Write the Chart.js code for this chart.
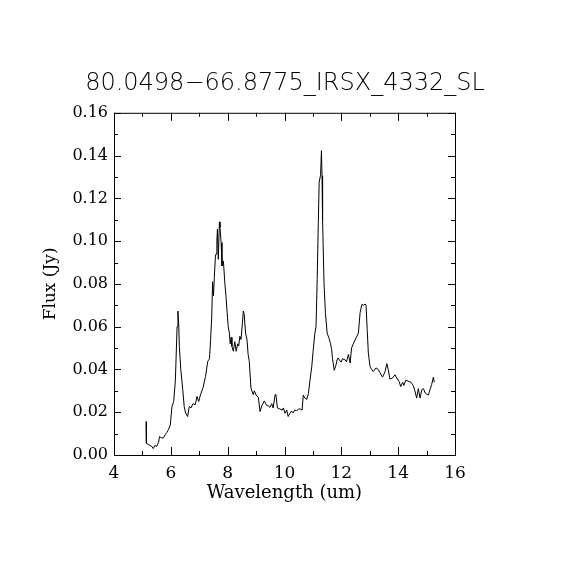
<!DOCTYPE html>
<html lang="en">
<head>
    <meta charset="UTF-8">
    <title>80.0498-66.8775_IRSX_4332_SL</title>
    <script src="https://cdn.jsdelivr.net/npm/chart.js"></script>
    <style>
        html, body { margin: 0; padding: 0; background: #fff; }
        .chart-container { width: 570px; height: 570px; }
    </style>
</head>
<body>

<div class="chart-container">
    <canvas id="spectrumChart" width="570" height="570"></canvas>
</div>

<script>
    // Espectro: longitud de onda (um) y flujo (Jy)
    const wavelength = [
        5.13, 5.14, 5.20, 5.27, 5.33, 5.38, 5.44, 5.50, 5.57, 5.60, 5.67, 5.74, 5.80, 5.86, 5.92, 5.98,
        6.04, 6.10, 6.16, 6.22, 6.25, 6.28, 6.30, 6.35, 6.42, 6.47, 6.52, 6.59, 6.65, 6.71, 6.78, 6.86,
        6.92, 6.98, 7.04, 7.13, 7.22, 7.30, 7.36, 7.40, 7.44, 7.47, 7.50, 7.53, 7.57, 7.59, 7.62, 7.64,
        7.67, 7.71, 7.73, 7.77, 7.80, 7.85, 7.90, 7.94, 7.99, 8.02, 8.06, 8.09, 8.12, 8.15, 8.20, 8.25,
        8.30, 8.35, 8.39, 8.43, 8.47, 8.52, 8.55, 8.58, 8.63, 8.68, 8.72, 8.76, 8.82, 8.90, 8.94, 9.00,
        9.08, 9.14, 9.20, 9.29, 9.37, 9.43, 9.49, 9.55, 9.60, 9.67, 9.70, 9.75, 9.84, 9.92, 9.96, 10.02,
        10.08, 10.13, 10.19, 10.25, 10.30, 10.36, 10.43, 10.50, 10.55, 10.62, 10.66, 10.72, 10.78, 10.84,
        10.90, 10.96, 11.01, 11.07, 11.11, 11.15, 11.19, 11.22, 11.27, 11.30, 11.32, 11.34, 11.39, 11.44,
        11.50, 11.57, 11.62, 11.66, 11.69, 11.75, 11.81, 11.85, 11.89, 11.95, 12.00, 12.04, 12.13, 12.18,
        12.25, 12.31, 12.36, 12.42, 12.52, 12.60, 12.66, 12.72, 12.78, 12.84, 12.87, 12.91, 12.95, 13.01,
        13.07, 13.12, 13.22, 13.30, 13.36, 13.45, 13.54, 13.60, 13.65, 13.71, 13.80, 13.89, 13.95, 14.03,
        14.09, 14.16, 14.20, 14.27, 14.35, 14.45, 14.53, 14.59, 14.65, 14.71, 14.77, 14.83, 14.89, 14.95,
        15.00, 15.06, 15.12, 15.18, 15.24, 15.27
    ];
    const flux = [
        0.0156, 0.0055, 0.0050, 0.0045, 0.0040, 0.0030, 0.0045, 0.0040, 0.0060, 0.0086, 0.0080, 0.0080, 0.0095, 0.0105, 0.0120, 0.0140,
        0.0227, 0.0250, 0.0350, 0.0600, 0.0673, 0.0600, 0.0508, 0.0400, 0.0305, 0.0227, 0.0196, 0.0180, 0.0227, 0.0220, 0.0240, 0.0235,
        0.0274, 0.0250, 0.0280, 0.0313, 0.0367, 0.0438, 0.0450, 0.0540, 0.0650, 0.0810, 0.0745, 0.0830, 0.0930, 0.0940, 0.1000, 0.1056,
        0.0915, 0.1090, 0.1064, 0.0993, 0.0884, 0.0907, 0.0805, 0.0743, 0.0650, 0.0600, 0.0570, 0.0520, 0.0550, 0.0508, 0.0485, 0.0530,
        0.0485, 0.0520, 0.0510, 0.0555, 0.0540, 0.0618, 0.0673, 0.0660, 0.0570, 0.0540, 0.0470, 0.0438, 0.0313, 0.0282, 0.0300, 0.0280,
        0.0269, 0.0203, 0.0230, 0.0253, 0.0232, 0.0230, 0.0223, 0.0240, 0.0220, 0.0282, 0.0280, 0.0220, 0.0215, 0.0210, 0.0220, 0.0195,
        0.0210, 0.0180, 0.0195, 0.0205, 0.0197, 0.0210, 0.0208, 0.0215, 0.0215, 0.0210, 0.0280, 0.0266, 0.0260, 0.0286,
        0.0352, 0.0414, 0.0490, 0.0570, 0.0600, 0.0820, 0.1087, 0.1275, 0.1310, 0.1423, 0.1306, 0.1100, 0.0806, 0.0665,
        0.0570, 0.0545, 0.0520, 0.0493, 0.0450, 0.0396, 0.0420, 0.0445, 0.0454, 0.0440, 0.0435, 0.0450, 0.0445, 0.0436,
        0.0470, 0.0430, 0.0500, 0.0520, 0.0548, 0.0570, 0.0665, 0.0704, 0.0700, 0.0706, 0.0699, 0.0587, 0.0477, 0.0414,
        0.0400, 0.0390, 0.0407, 0.0400, 0.0385, 0.0364, 0.0390, 0.0427, 0.0400, 0.0355, 0.0360, 0.0375, 0.0360, 0.0344,
        0.0320, 0.0340, 0.0325, 0.0350, 0.0345, 0.0340, 0.0325, 0.0300, 0.0266, 0.0310, 0.0266, 0.0305, 0.0310, 0.0290,
        0.0285, 0.0280, 0.0305, 0.0330, 0.0364, 0.0340
    ];
    const xTicks = [4, 6, 8, 10, 12, 14, 16];
    const yTicks = [0.00, 0.02, 0.04, 0.06, 0.08, 0.10, 0.12, 0.14, 0.16];

    const serif = "'DejaVu Serif', serif";

    // Marcas hacia dentro en los cuatro lados (mayores y menores)
    const inwardTicks = {
        id: 'inwardTicks',
        afterDraw(chart) {
            const { ctx, chartArea: a, scales: { x, y } } = chart;
            ctx.save();
            ctx.strokeStyle = '#000';
            ctx.lineWidth = 1;
            ctx.strokeRect(a.left + 0.5, a.top + 0.5, a.right - a.left, a.bottom - a.top);
            ctx.beginPath();
            for (let v = 4; v <= 16; v += 1) {
                const px = Math.round(x.getPixelForValue(v)) + 0.5;
                const len = v % 2 === 0 ? 8 : 4;
                ctx.moveTo(px, a.bottom); ctx.lineTo(px, a.bottom - len);
                ctx.moveTo(px, a.top); ctx.lineTo(px, a.top + len);
            }
            for (let i = 0; i <= 16; i++) {
                const py = Math.round(y.getPixelForValue(i / 100)) + 0.5;
                const len = i % 2 === 0 ? 7 : 4;
                ctx.moveTo(a.left, py); ctx.lineTo(a.left + len, py);
                ctx.moveTo(a.right, py); ctx.lineTo(a.right - len, py);
            }
            ctx.stroke();
            ctx.restore();
        }
    };

    const config = {
        type: 'line',
        data: {
            datasets: [{
                data: wavelength.map((w, i) => ({ x: w, y: flux[i] })),
                borderColor: '#000',
                borderWidth: 1,
                pointRadius: 0,
                tension: 0,
                fill: false
            }]
        },
        options: {
            responsive: false,
            animation: false,
            devicePixelRatio: 1,
            layout: { padding: { left: 0, right: 0, top: 0, bottom: 66 } },
            scales: {
                x: {
                    type: 'linear',
                    min: 4,
                    max: 16,
                    afterBuildTicks: (s) => { s.ticks = xTicks.map(v => ({ value: v })); },
                    afterFit: (s) => { s.height = 49; },
                    grid: { display: false, drawTicks: false },
                    border: { display: false },
                    ticks: { color: '#000', padding: 8, maxRotation: 0, font: { family: serif, size: 17 } },
                    title: { display: true, text: 'Wavelength (um)', color: '#000', padding: 0, font: { family: serif, size: 18 } }
                },
                y: {
                    min: 0,
                    max: 0.16,
                    afterBuildTicks: (s) => { s.ticks = yTicks.map(v => ({ value: v })); },
                    afterFit: (s) => { s.width = 114; },
                    grid: { display: false, drawTicks: false },
                    border: { display: false },
                    ticks: {
                        color: '#000', padding: 6, font: { family: serif, size: 16 },
                        callback: (v) => Number(v).toFixed(2)
                    },
                    title: { display: true, text: 'Flux (Jy)', color: '#000', padding: { top: 40 }, font: { family: serif, size: 17 } }
                },
                // eje vacío a la derecha para centrar el título sobre el lienzo
                yRight: {
                    position: 'right',
                    min: 0,
                    max: 0.16,
                    afterFit: (s) => { s.width = 115; },
                    grid: { display: false, drawTicks: false },
                    border: { display: false },
                    ticks: { display: false }
                }
            },
            plugins: {
                legend: { display: false },
                tooltip: { enabled: false },
                title: {
                    display: true,
                    text: '80.0498\u221266.8775_IRSX_4332_SL',
                    color: '#000',
                    font: { family: "'DejaVu Sans', sans-serif", size: 24, weight: 200 },
                    padding: { top: 69, bottom: 15 }
                }
            }
        },
        plugins: [inwardTicks]
    };

    new Chart(document.getElementById('spectrumChart'), config);
</script>

</body>
</html>
